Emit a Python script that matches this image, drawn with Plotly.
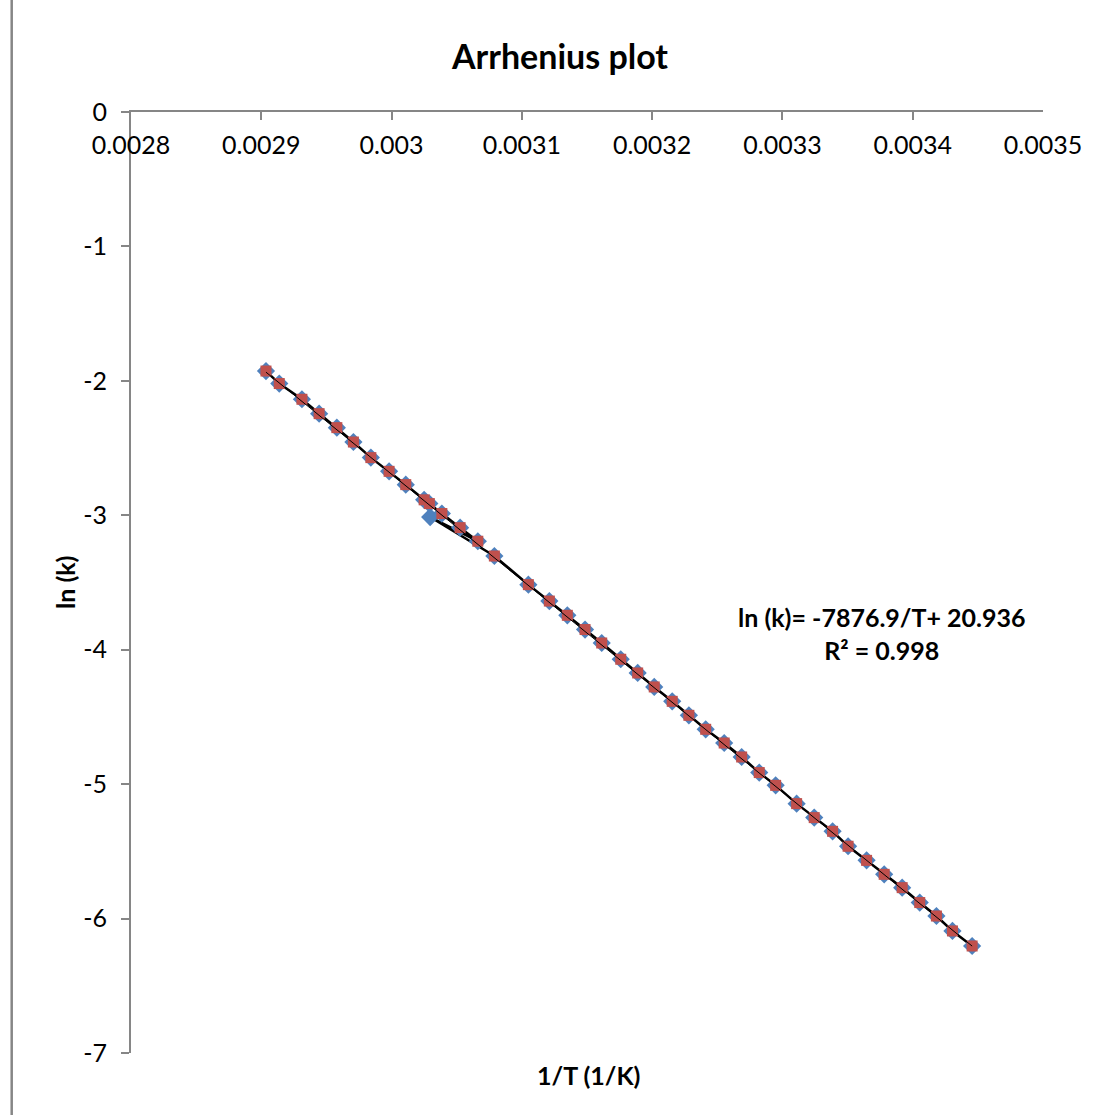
import plotly.graph_objects as go

# Reciprocal temperature (1/K) and ln(k) for each run
inv_T = [
    0.0029036, 0.0029138, 0.0029312, 0.0029444, 0.0029580, 0.0029707, 0.0029841,
    0.0029981, 0.0030109, 0.0030250, 0.0030290, 0.0030386, 0.0030526, 0.0030662,
    0.0030789, 0.0031050, 0.0031211, 0.0031349, 0.0031485, 0.0031613, 0.0031759,
    0.0031889, 0.0032016, 0.0032154, 0.0032282, 0.0032411, 0.0032553, 0.0032687,
    0.0032822, 0.0032948, 0.0033109, 0.0033244, 0.0033385, 0.0033504, 0.0033646,
    0.0033781, 0.0033919, 0.0034054, 0.0034182, 0.0034305, 0.0034456,
]
ln_k = [
    -1.927, -2.020, -2.137, -2.244, -2.348, -2.455, -2.571,
    -2.673, -2.772, -2.885, -2.913, -2.987, -3.092, -3.193,
    -3.303, -3.516, -3.638, -3.744, -3.850, -3.950, -4.071,
    -4.173, -4.277, -4.384, -4.488, -4.592, -4.694, -4.798,
    -4.914, -5.009, -5.145, -5.249, -5.351, -5.462, -5.567,
    -5.671, -5.770, -5.881, -5.981, -6.092, -6.204,
]

# Stray measurement recorded in the raw series after run 14
stray_inv_T = 0.0030296
stray_ln_k = -3.013
stray_after = 14

# Linear fit reported on the chart
SLOPE = -7876.9
INTERCEPT = 20.936
R2 = 0.998

x_ticks = [0.0028, 0.0029, 0.0030, 0.0031, 0.0032, 0.0033, 0.0034, 0.0035]
x_tick_text = ["0.0028", "0.0029", "0.003", "0.0031", "0.0032", "0.0033", "0.0034", "0.0035"]
y_ticks = [0, -1, -2, -3, -4, -5, -6, -7]
y_tick_text = ["0", "-1", "-2", "-3", "-4", "-5", "-6", "-7"]

raw_x = inv_T[:stray_after] + [stray_inv_T] + inv_T[stray_after:]
raw_y = ln_k[:stray_after] + [stray_ln_k] + ln_k[stray_after:]

BLUE = "#4F81BD"
RED = "#C0504D"
AXIS = "#868686"
FONT = "Lato"

fig = go.Figure()

# raw series: black connecting line with blue diamonds
fig.add_trace(go.Scatter(
    x=raw_x, y=raw_y, mode="lines+markers",
    line=dict(color="black", width=2.5),
    marker=dict(symbol="diamond", size=14, color=BLUE),
    showlegend=False, hoverinfo="x+y",
))

# corrected series: red squares
fig.add_trace(go.Scatter(
    x=inv_T, y=ln_k, mode="markers",
    marker=dict(symbol="square", size=11, color=RED),
    showlegend=False, hoverinfo="x+y",
))

# trendline from the fitted coefficients
x_lo, x_hi = min(inv_T), max(inv_T)
fig.add_trace(go.Scatter(
    x=[x_lo, x_hi],
    y=[SLOPE * x_lo + INTERCEPT, SLOPE * x_hi + INTERCEPT],
    mode="lines", line=dict(color="black", width=1),
    showlegend=False, hoverinfo="skip",
))

M_L, M_R, M_T, M_B = 131, 52, 112, 62
W, H = 1095, 1115
pw = W - M_L - M_R
ph = H - M_T - M_B

fig.update_layout(
    width=W, height=H,
    margin=dict(l=M_L, r=M_R, t=M_T, b=M_B),
    paper_bgcolor="white", plot_bgcolor="white",
    font=dict(family=FONT, size=25, color="black"),
    title=dict(
        text="<b>Arrhenius plot</b>", x=560 / W, xref="container", xanchor="center",
        y=1 - 57 / H, yref="container", yanchor="middle",
        font=dict(family=FONT, size=34, color="black"),
    ),
    xaxis=dict(
        range=[0.0028, 0.0035], side="top",
        tickmode="array", tickvals=x_ticks, ticktext=x_tick_text,
        ticks="inside", ticklen=8, tickwidth=1.5, tickcolor=AXIS,
        ticklabelposition="inside", ticklabelstandoff=19,
        ticklabeloverflow="allow",
        showline=True, linecolor=AXIS, linewidth=1.5,
        showgrid=False, zeroline=False,
        tickfont=dict(family=FONT, size=25, color="black"),
    ),
    yaxis=dict(
        range=[-7, 0],
        tickmode="array", tickvals=y_ticks, ticktext=y_tick_text,
        ticks="outside", ticklen=8, tickwidth=1.5, tickcolor=AXIS,
        ticklabelstandoff=9, ticklabeloverflow="allow",
        showline=True, linecolor=AXIS, linewidth=2,
        showgrid=False, zeroline=False,
        tickfont=dict(family=FONT, size=25, color="black"),
    ),
    annotations=[
        dict(
            text="<b>ln (k)</b>", xref="paper", yref="paper",
            x=(65 - M_L) / pw, y=1 - (583 - M_T) / ph,
            xanchor="center", yanchor="middle",
            textangle=-90, showarrow=False,
            font=dict(family=FONT, size=25, color="black"),
        ),
        dict(
            text="<b>1/T (1/K)</b>", xref="paper", yref="paper",
            x=(588 - M_L) / pw, y=1 - (1075 - M_T) / ph,
            xanchor="center", yanchor="middle",
            showarrow=False,
            font=dict(family=FONT, size=25, color="black"),
        ),
        dict(
            text=f"<b>ln (k)= {SLOPE}/T+ {INTERCEPT}<br>R² = {R2}</b>",
            xref="paper", yref="paper",
            x=(881 - M_L) / pw, y=1 - (633 - M_T) / ph,
            xanchor="center", yanchor="middle",
            showarrow=False, align="center",
            font=dict(family=FONT, size=25, color="black"),
        ),
    ],
    shapes=[
        dict(
            type="line", xref="paper", yref="paper",
            x0=(11.7 - M_L) / pw, x1=(11.7 - M_L) / pw,
            y0=-M_B / ph, y1=1 + M_T / ph,
            line=dict(color=AXIS, width=2.5),
        )
    ],
)

fig.write_html("out.html")
